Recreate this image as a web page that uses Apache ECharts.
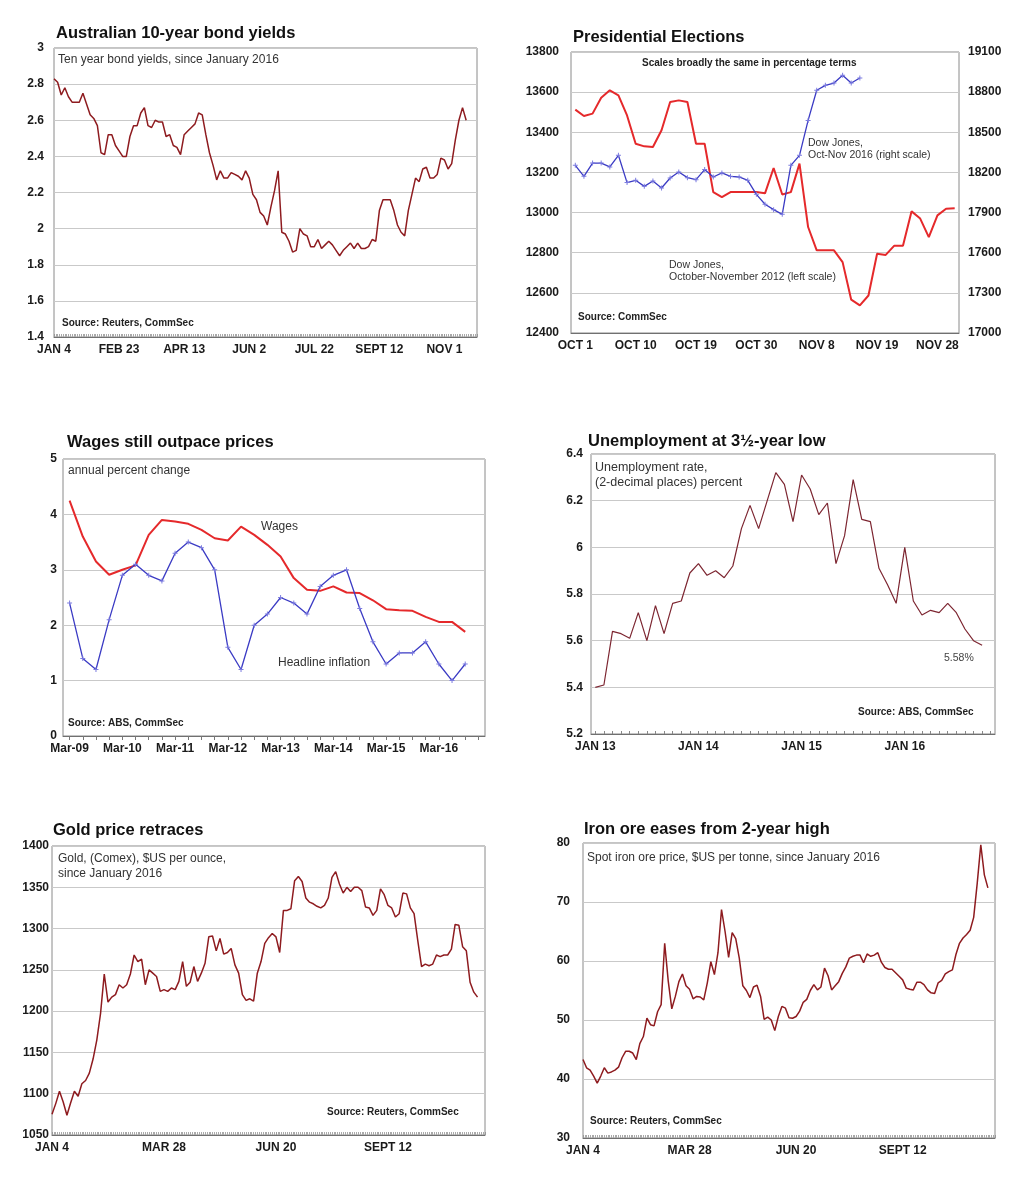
<!DOCTYPE html>
<html>
<head>
<meta charset="utf-8">
<title>Market charts</title>
<script src="https://cdn.jsdelivr.net/npm/echarts@6/dist/echarts.min.js"></script>
<style>
  html, body { margin: 0; padding: 0; background: #fff; }
  #main { width: 1036px; height: 1200px; }
</style>
</head>
<body>
<div id="main"></div>
<script>
// ---- data ----
// bond yields, one value every 2 trading days from Jan 4 2016
const bondStep = 2
const bondTicks = ['JAN 4', 'FEB 23', 'APR 13', 'JUN 2', 'JUL 22', 'SEPT 12', 'NOV 1']
const bondYields = [2.83, 2.81, 2.74, 2.78, 2.73, 2.70, 2.70, 2.70, 2.75, 2.69, 2.63, 2.61, 2.57, 2.42, 2.41, 2.52, 2.52, 2.46, 2.43, 2.40,
  2.40, 2.51, 2.57, 2.57, 2.64, 2.67, 2.57, 2.56, 2.60, 2.59, 2.59, 2.51, 2.52, 2.46, 2.45, 2.41, 2.52, 2.54, 2.56, 2.58,
  2.64, 2.63, 2.52, 2.42, 2.35, 2.27, 2.32, 2.28, 2.28, 2.31, 2.30, 2.29, 2.27, 2.32, 2.28, 2.19, 2.16, 2.09, 2.07, 2.02,
  2.12, 2.21, 2.32, 1.98, 1.97, 1.93, 1.87, 1.88, 2.00, 1.97, 1.96, 1.90, 1.90, 1.94, 1.89, 1.91, 1.93, 1.91, 1.88, 1.85,
  1.88, 1.90, 1.92, 1.89, 1.92, 1.89, 1.89, 1.90, 1.94, 1.93, 2.10, 2.16, 2.16, 2.16, 2.10, 2.02, 1.98, 1.96, 2.10, 2.19,
  2.28, 2.26, 2.33, 2.34, 2.28, 2.28, 2.30, 2.39, 2.38, 2.33, 2.36, 2.49, 2.60, 2.67, 2.60]

// Dow Jones, trading days from Oct 1
const electionTicks = ['OCT 1', 'OCT 10', 'OCT 19', 'OCT 30', 'NOV 8', 'NOV 19', 'NOV 28']
const dow2012 = [13513, 13481, 13493, 13572, 13609, 13584, 13484, 13343, 13330, 13327, 13410, 13551, 13559, 13551, 13343,
  13343, 13102, 13077, 13102, 13103, 13103, 13103, 13096, 13222, 13090, 13102, 13244, 12928, 12812, 12812,
  12812, 12753, 12566, 12538, 12587, 12795, 12789, 12835, 12835, 13006, 12970, 12878, 12986, 13019, 13021]
const dow2016 = [18253, 18171, 18270, 18270, 18241, 18328, 18124, 18141, 18096, 18136, 18084, 18158, 18203, 18161, 18146,
  18221, 18166, 18196, 18171, 18166, 18141, 18036, 17962, 17922, 17887, 18253, 18328, 18589, 18814, 18851,
  18868, 18926, 18868, 18906]

// wages vs inflation, quarterly from Mar-09
const quarterMonths = ['Mar', 'Jun', 'Sep', 'Dec']
const wageYears = ['09', '10', '11', '12', '13', '14', '15', '16']
const wages = [4.25, 3.60, 3.15, 2.91, 3.00, 3.08, 3.63, 3.90, 3.87, 3.83, 3.72, 3.57, 3.53, 3.78, 3.63, 3.45,
  3.24, 2.85, 2.64, 2.62, 2.70, 2.59, 2.58, 2.45, 2.29, 2.27, 2.26, 2.15, 2.06, 2.06, 1.88]
const inflation = [2.4, 1.4, 1.2, 2.1, 2.9, 3.1, 2.9, 2.8, 3.3, 3.5, 3.4, 3.0, 1.6, 1.2, 2.0, 2.2,
  2.5, 2.4, 2.2, 2.7, 2.9, 3.0, 2.3, 1.7, 1.3, 1.5, 1.5, 1.7, 1.3, 1.0, 1.3]

// unemployment, monthly from Jan 2013
const unempYears = ['13', '14', '15', '16']
const unemployment = [5.40, 5.41, 5.64, 5.63, 5.61, 5.72, 5.60, 5.75, 5.63, 5.76, 5.77, 5.89, 5.93, 5.88, 5.90, 5.87,
  5.92, 6.08, 6.18, 6.08, 6.20, 6.32, 6.27, 6.11, 6.31, 6.25, 6.14, 6.19, 5.93, 6.05, 6.29, 6.12,
  6.11, 5.91, 5.84, 5.76, 6.00, 5.77, 5.71, 5.73, 5.72, 5.76, 5.72, 5.65, 5.60, 5.58]

// gold and iron ore, one value every 2 trading days from Jan 4 2016
const commodityStep = 2
const commodityTicks = ['JAN 4', 'MAR 28', 'JUN 20', 'SEPT 12']
const gold = [1075, 1088, 1103, 1090, 1074, 1089, 1103, 1097, 1112, 1116, 1125, 1142, 1165, 1197, 1245, 1211, 1217, 1220, 1232, 1228,
  1232, 1245, 1268, 1260, 1263, 1232, 1250, 1246, 1242, 1224, 1226, 1224, 1228, 1226, 1236, 1260, 1230, 1235, 1254, 1236,
  1246, 1258, 1290, 1291, 1273, 1288, 1269, 1271, 1276, 1256, 1246, 1220, 1213, 1215, 1212, 1246, 1260, 1282, 1289, 1294,
  1290, 1271, 1322, 1322, 1324, 1358, 1363, 1357, 1337, 1332, 1330, 1327, 1325, 1328, 1337, 1362, 1369, 1354, 1343, 1350,
  1345, 1350, 1350, 1346, 1326, 1325, 1316, 1322, 1348, 1341, 1328, 1325, 1314, 1318, 1343, 1342, 1325, 1318, 1285, 1254,
  1257, 1255, 1257, 1268, 1266, 1268, 1268, 1275, 1305, 1304, 1278, 1273, 1235, 1223, 1217]
const ironOre = [43.3, 41.9, 41.5, 40.5, 39.3, 40.5, 41.9, 41.0, 41.2, 41.5, 42.0, 43.6, 44.7, 44.7, 44.4, 43.3, 46.0, 47.2, 50.3, 49.2,
  49.0, 51.4, 52.6, 63.0, 56.6, 51.9, 54.0, 56.5, 57.8, 55.8, 55.2, 53.6, 54.0, 53.9, 53.4, 56.3, 59.9, 57.7, 61.4, 68.7,
  65.0, 60.6, 64.8, 63.8, 60.5, 55.8, 55.0, 53.8, 55.6, 55.9, 54.0, 50.1, 50.5, 50.0, 48.2, 50.6, 52.3, 52.0, 50.4, 50.3,
  50.6, 51.5, 53.0, 53.5, 55.0, 56.0, 55.1, 55.6, 58.8, 57.5, 55.1, 55.8, 56.5, 57.9, 59.0, 60.5, 60.8, 61.0, 61.0, 59.7,
  61.2, 60.8, 61.0, 61.4, 59.8, 58.9, 58.6, 58.6, 58.0, 57.4, 56.8, 55.4, 55.2, 55.1, 56.4, 56.4, 56.0, 55.1, 54.6, 54.5,
  56.3, 56.7, 57.8, 58.2, 58.5, 61.1, 63.0, 63.9, 64.5, 65.2, 67.4, 73.2, 79.7, 74.6, 72.4]

// ---- styles ----
const FONT = 'Arial, "Liberation Sans", sans-serif'
const DARK_RED = '#8e1b1f'
const RED = '#e5292b'
const BLUE = '#3b3bc4'
const GRID_LINE = '#c9c9c9'
const PLUS = 'path://M4,0h2v4h4v2h-4v4h-2v-4h-4v-2h4z'

const grids = []
const xAxes = []
const yAxes = []
const series = []
const texts = []

const labelStyle = { color: '#1a1a1a', fontFamily: FONT, fontWeight: 'bold', fontSize: 12 }

// text helper, x = left edge, y = vertical centre
const addText = (x, y, text, size, bold, color, lineHeight) => {
  texts.push({
    type: 'text',
    x: x,
    y: y,
    silent: true,
    style: {
      text: text,
      fill: color,
      font: (bold ? 'bold ' : '') + size + 'px ' + FONT,
      lineHeight: lineHeight || size + 2,
      verticalAlign: 'middle',
      align: 'left'
    }
  })
}

const addGrid = (left, top, width, height) => {
  grids.push({ left, top, width, height, show: true, borderColor: '#8a8a8a', borderWidth: 1, containLabel: false })
  return grids.length - 1
}

// plain numbers, no thousands separators
const plainNum = (v) => String(parseFloat(v.toFixed(4)))

const addY = (gi, min, max, interval, margin, extra) => {
  yAxes.push(Object.assign({
    type: 'value',
    gridIndex: gi,
    min,
    max,
    interval,
    axisLine: { show: false },
    axisTick: { show: false },
    splitLine: { show: true, lineStyle: { color: GRID_LINE, width: 1 } },
    axisLabel: Object.assign({ margin, formatter: plainNum }, labelStyle)
  }, extra || {}))
  return yAxes.length - 1
}

// trading-day value axis with a tick label every `interval` days
const addDayX = (gi, max, interval, ticks) => {
  xAxes.push({
    type: 'value',
    gridIndex: gi,
    min: 0,
    max,
    interval,
    axisLine: { show: true, onZero: false, lineStyle: { color: '#707070' } },
    axisTick: { show: true, inside: true, length: 3, lineStyle: { color: '#999' } },
    minorTick: { show: true, splitNumber: interval, length: 3, lineStyle: { color: '#aaa' } },
    splitLine: { show: false },
    axisLabel: Object.assign({
      margin: 7,
      showMaxLabel: false,
      formatter: (v) => (v % interval === 0 && ticks[v / interval]) || ''
    }, labelStyle)
  })
  return xAxes.length - 1
}

const addCatX = (gi, cats, labelEvery, tick, formatter) => {
  xAxes.push({
    type: 'category',
    gridIndex: gi,
    data: cats,
    boundaryGap: true,
    axisLine: { show: true, onZero: false, lineStyle: { color: '#707070' } },
    axisTick: tick,
    axisLabel: Object.assign({ margin: 7, interval: labelEvery - 1, formatter }, labelStyle)
  })
  return xAxes.length - 1
}

const addLine = (xi, yi, data, color, width, marker) => {
  series.push({
    type: 'line',
    xAxisIndex: xi,
    yAxisIndex: yi,
    data,
    showSymbol: !!marker,
    symbol: marker ? PLUS : 'none',
    symbolSize: 5,
    itemStyle: { color: '#7c7ce0' },
    lineStyle: { color, width },
    silent: true,
    animation: false
  })
}

// 1. Australian bond yields
{
  const gi = addGrid(54, 48, 423, 289)
  const xi = addDayX(gi, 234, 36, bondTicks)
  const yi = addY(gi, 1.4, 3, 0.2, 10)
  addLine(xi, yi, bondYields.map((v, i) => [i * bondStep, v]), DARK_RED, 1.5)
  addText(56, 33, 'Australian 10-year bond yields', 16.5, true, '#111')
  addText(58, 60, 'Ten year bond yields, since January 2016', 12, false, '#333')
  addText(62, 323, 'Source: Reuters, CommSec', 10, true, '#222')
}

// 2. Presidential elections
{
  const gi = addGrid(571, 52, 388, 281)
  const cats = dow2012.map((v, i) => i)
  const xi = addCatX(gi, cats, 7, { show: false }, (v, i) => electionTicks[i / 7] || '')
  const yl = addY(gi, 12400, 13800, 200, 12)
  const yr = addY(gi, 17000, 19100, null, 9, { position: 'right', alignTicks: true, splitLine: { show: false } })
  addLine(xi, yl, dow2012, RED, 2)
  addLine(xi, yr, dow2016, BLUE, 1.3, true)
  addText(573, 37, 'Presidential Elections', 16.5, true, '#111')
  addText(642, 63, 'Scales broadly the same in percentage terms', 10, true, '#222')
  addText(808, 149, 'Dow Jones,\nOct-Nov 2016 (right scale)', 10.5, false, '#333', 12)
  addText(669, 271, 'Dow Jones,\nOctober-November 2012 (left scale)', 10.5, false, '#333', 12)
  addText(578, 317, 'Source: CommSec', 10, true, '#222')
}

// 3. Wages vs prices
{
  const gi = addGrid(63, 459, 422, 277)
  const cats = []
  wageYears.forEach((y) => quarterMonths.forEach((m) => cats.push(m + '-' + y)))
  const xi = addCatX(gi, cats, 4, { show: true, alignWithLabel: true, interval: 0, length: 4, lineStyle: { color: '#777' } })
  const yi = addY(gi, 0, 5, 1, 6)
  addLine(xi, yi, wages, RED, 2)
  addLine(xi, yi, inflation, BLUE, 1.3, true)
  addText(67, 442, 'Wages still outpace prices', 16.5, true, '#111')
  addText(68, 471, 'annual percent change', 12, false, '#333')
  addText(261, 527, 'Wages', 12, false, '#333')
  addText(278, 663, 'Headline inflation', 12, false, '#333')
  addText(68, 723, 'Source: ABS, CommSec', 10, true, '#222')
}

// 4. Unemployment
{
  const gi = addGrid(591, 454, 404, 280)
  const cats = []
  unempYears.forEach((y) => {
    for (let m = 0; m < 12; m++) cats.push(m === 0 ? 'JAN ' + y : '')
  })
  cats.length = 47
  const xi = addCatX(gi, cats, 12, { show: true, inside: true, alignWithLabel: true, interval: 0, length: 3, lineStyle: { color: '#888' } })
  const yi = addY(gi, 5.2, 6.4, 0.2, 8)
  addLine(xi, yi, unemployment, '#7d2631', 1.2)
  addText(588, 441, 'Unemployment at 3\u00bd-year low', 16.5, true, '#111')
  addText(595, 475, 'Unemployment rate,\n(2-decimal places) percent', 12.5, false, '#333', 14.6)
  addText(944, 658, '5.58%', 10.5, false, '#444')
  addText(858, 712, 'Source: ABS, CommSec', 10, true, '#222')
}

// 5. Gold
{
  const gi = addGrid(52, 846, 433, 289)
  const xi = addDayX(gi, 232, 60, commodityTicks)
  const yi = addY(gi, 1050, 1400, 50, 3)
  addLine(xi, yi, gold.map((v, i) => [i * commodityStep, v]), DARK_RED, 1.5)
  addText(53, 830, 'Gold price retraces', 16.5, true, '#111')
  addText(58, 866, 'Gold, (Comex), $US per ounce,\nsince January 2016', 12, false, '#333', 15)
  addText(327, 1112, 'Source: Reuters, CommSec', 10, true, '#222')
}

// 6. Iron ore
{
  const gi = addGrid(583, 843, 412, 295)
  const xi = addDayX(gi, 232, 60, commodityTicks)
  const yi = addY(gi, 30, 80, 10, 13)
  addLine(xi, yi, ironOre.map((v, i) => [i * commodityStep, v]), DARK_RED, 1.5)
  addText(584, 829, 'Iron ore eases from 2-year high', 16.5, true, '#111')
  addText(587, 858, 'Spot iron ore price, $US per tonne, since January 2016', 12, false, '#333')
  addText(590, 1121, 'Source: Reuters, CommSec', 10, true, '#222')
}

const chart = echarts.init(document.getElementById('main'))
chart.setOption({
  backgroundColor: '#fff',
  animation: false,
  grid: grids,
  xAxis: xAxes,
  yAxis: yAxes,
  series: series,
  graphic: texts
})
</script>
</body>
</html>
